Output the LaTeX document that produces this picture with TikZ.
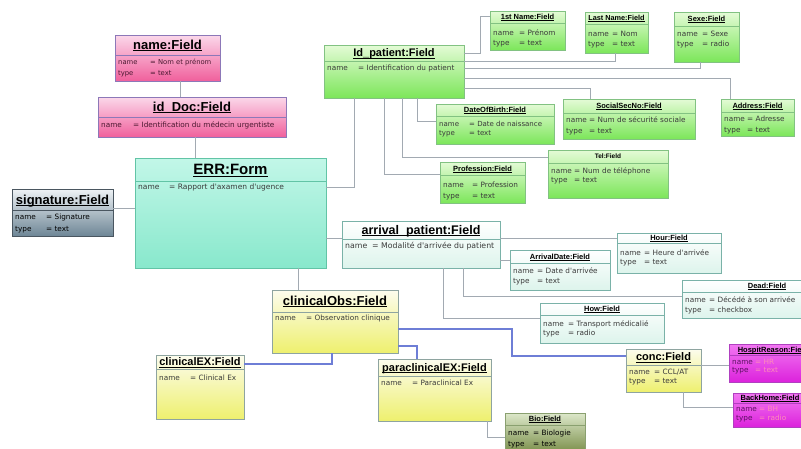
\documentclass[tikz,border=0pt]{standalone}
\usepackage{fontspec}
\setmainfont{Liberation Sans}
\newfontfamily\dv{DejaVu Sans}
\usetikzlibrary{calc}

\definecolor{pkT}{HTML}{FBD8EA}
\definecolor{pkB}{HTML}{F0609C}
\definecolor{pkD}{HTML}{8C78B8}
\definecolor{pkX}{HTML}{4A1830}
\definecolor{grT}{HTML}{E4FBD6}
\definecolor{grB}{HTML}{7CE65A}
\definecolor{grD}{HTML}{82C282}
\definecolor{aqT}{HTML}{C2F7E8}
\definecolor{aqB}{HTML}{88E8CC}
\definecolor{aqD}{HTML}{62C4A6}
\definecolor{sgT}{HTML}{EEF2F5}
\definecolor{sgB}{HTML}{6E8696}
\definecolor{sgD}{HTML}{4A5660}
\definecolor{mnT}{HTML}{FFFFFF}
\definecolor{mnB}{HTML}{DDF4EC}
\definecolor{mnD}{HTML}{7AB2A8}
\definecolor{ylT}{HTML}{FCFCEE}
\definecolor{ylB}{HTML}{EEF06E}
\definecolor{ylD}{HTML}{8EA4A0}
\definecolor{olT}{HTML}{DDE8CA}
\definecolor{olB}{HTML}{6C8238}
\definecolor{olD}{HTML}{8AA070}
\definecolor{mgT}{HTML}{F278F2}
\definecolor{mgB}{HTML}{DC22DC}
\definecolor{mgD}{HTML}{B040C0}
\definecolor{mgL}{HTML}{5A1060}
\definecolor{mgV}{HTML}{FF8CB8}
\definecolor{cnG}{HTML}{A2AAB2}
\definecolor{cnB}{HTML}{6E7ED6}
\definecolor{txA}{HTML}{3A3A3A}

\tikzset{
  boxbase/.style={rectangle, draw, line width=0.8pt, anchor=north west, inner sep=0pt, outer sep=0pt},
  pink box/.style={boxbase, draw=pkD, top color=pkT, bottom color=pkB},
  pink sep/.style={draw=pkD, line width=0.8pt},
  pink attr/.style={text=pkX},
  green box/.style={boxbase, draw=grD, top color=grT, bottom color=grB},
  green sep/.style={draw=grD, line width=0.8pt},
  green attr/.style={text=txA},
  aqua box/.style={boxbase, draw=aqD, top color=aqT, bottom color=aqB},
  aqua sep/.style={draw=aqD, line width=0.8pt},
  aqua attr/.style={text=txA},
  sig box/.style={boxbase, draw=sgD, top color=sgT, bottom color=sgB},
  sig sep/.style={draw=sgD, line width=0.8pt},
  sig attr/.style={text=black},
  mint box/.style={boxbase, draw=mnD, top color=mnT, bottom color=mnB},
  mint sep/.style={draw=mnD, line width=0.8pt},
  mint attr/.style={text=txA},
  yel box/.style={boxbase, draw=ylD, top color=ylT, bottom color=ylB},
  yel sep/.style={draw=ylD, line width=0.8pt},
  yel attr/.style={text=txA},
  olive box/.style={boxbase, draw=olD, top color=olT, bottom color=olB},
  olive sep/.style={draw=olD, line width=0.8pt},
  olive attr/.style={text=black},
  mag box/.style={boxbase, draw=mgD, top color=mgT, bottom color=mgB},
  mag sep/.style={draw=mgD, line width=0.8pt},
  mag attr/.style={text=mgL},
  ttl/.style={inner sep=0pt, font=\bfseries, text=black},
  attr/.style={inner sep=0pt, font=\dv},
  conn/.style={draw=cnG, line width=0.9pt},
  bconn/.style={draw=cnB, line width=2.6pt},
}

\newcommand\utl[1]{\setbox0\hbox{#1}\rlap{\rule[-0.13em]{\wd0}{0.08em}}\box0}
\newcount\urowno
\newcommand\ubox[9]{%
  \node[#1 box, minimum width=#5pt, minimum height=#6pt] (#2) at (#3,#4) {};
  \draw[#1 sep] ([yshift=-#7pt]#2.north west) -- ([yshift=-#7pt]#2.north east);
  \node[ttl, anchor=base] (#2-t) at ([yshift={-(#7/2+0.36*#8)}]#2.north) {\fontsize{#8}{#8}\selectfont #9};
  \coordinate (cur) at ([yshift=-#7pt]#2.north west);
  \tikzset{cur attr/.style={#1 attr}}%
  \urowno=0 \def\avcol{.}%
}
\newcommand\attrs[4]{\def\afs{#1}\def\aw{#2}\def\afirst{#3}\def\arsep{#4}}
\newcommand\arow[2]{%
  \advance\urowno by 1
  \pgfmathsetmacro\ayy{-(\afirst+2+(\urowno-1)*\arsep)}%
  \node[attr, cur attr, anchor=base west] at ([xshift=3pt, yshift=\ayy pt]cur) {\fontsize{\afs}{\afs}\selectfont\makebox[\aw pt][l]{#1}{\color{\avcol}= #2}};
}

\begin{document}
\begin{tikzpicture}[x=1pt,y=-1pt]
\fill[white] (0,0) rectangle (801,448);
\useasboundingbox (0,0) rectangle (801,448);

% ---------- boxes ----------
\ubox{pink}{nameF}{115}{35}{105}{46}{20}{13}{\utl{name:Field}}
\attrs{6.8}{32}{7}{11}
\arow{name}{Nom et prénom}
\arow{type}{text}

\ubox{pink}{idDoc}{98}{97}{188}{40}{20}{13}{\utl{id\_Doc:Field}}
\attrs{7.3}{32}{8}{11}
\arow{name}{Identification du médecin urgentiste}

\ubox{aqua}{ERR}{135}{158}{191}{110}{23}{15}{\utl{ERR:Form}}
\attrs{7.5}{31}{6}{11}
\arow{name}{Rapport d'axamen d'ugence}

\ubox{sig}{sig}{12}{189}{101}{47}{21}{13}{\utl{signature:Field}}
\attrs{7.3}{31}{7}{12}
\arow{name}{Signature}
\arow{type}{text}

\ubox{green}{idPat}{324}{45}{140}{53}{16}{11}{\utl{Id\_patient:Field}}
\attrs{7.3}{31}{7}{11}
\arow{name}{Identification du patient}

\ubox{green}{first}{490}{11}{75}{39}{12}{7.5}{\utl{1st Name:Field}}
\attrs{7.3}{26}{10}{10}
\arow{name}{Prénom}
\arow{type}{text}

\ubox{green}{last}{585}{12}{63}{41}{12}{7.3}{\utl{Last Name:Field}}
\attrs{7.3}{24}{10}{10}
\arow{name}{Nom}
\arow{type}{text}

\ubox{green}{sexe}{674}{12}{65}{50}{14}{7.5}{\utl{Sexe:Field}}
\attrs{7.3}{25}{8}{10}
\arow{name}{Sexe}
\arow{type}{radio}

\ubox{green}{dob}{436}{104}{118}{40}{12}{7.5}{\utl{DateOfBirth:Field}}
\attrs{7}{30}{8}{9.5}
\arow{name}{Date de naissance}
\arow{type}{text}

\ubox{green}{ssn}{563}{99}{132}{40}{14}{7.5}{\utl{SocialSecNo:Field}}
\attrs{7.3}{23}{7}{11}
\arow{name}{Num de sécurité sociale}
\arow{type}{text}

\ubox{green}{addr}{721}{99}{73}{37}{13}{7.5}{\utl{Address:Field}}
\attrs{7.3}{23}{7}{11}
\arow{name}{Adresse}
\arow{type}{text}

\ubox{green}{prof}{440}{162}{85}{41}{13}{7.5}{\utl{Profession:Field}}
\attrs{7.3}{29}{10}{11}
\arow{name}{Profession}
\arow{type}{text}

\ubox{green}{tel}{548}{150}{120}{48}{13}{6.5}{Tel:Field}
\attrs{7.3}{23}{8}{9.5}
\arow{name}{Num de téléphone}
\arow{type}{text}

\ubox{mint}{arr}{342}{221}{158}{47}{18}{12.5}{\utl{arrival\_patient:Field}}
\attrs{7.8}{27}{7}{11}
\arow{name}{Modalité d'arrivée du patient}

\ubox{mint}{hour}{617}{233}{104}{40}{10}{7.5}{\utl{Hour:Field}}
\attrs{7.3}{24}{10}{9}
\arow{name}{Heure d'arrivée}
\arow{type}{text}

\ubox{mint}{adate}{510}{250}{100}{40}{13}{7.5}{\utl{ArrivalDate:Field}}
\attrs{7.3}{24}{8}{10}
\arow{name}{Date d'arrivée}
\arow{type}{text}

\ubox{mint}{dead}{682}{280}{170}{38}{12}{7.5}{\utl{Dead:Field}}
\attrs{7.3}{24}{8}{10}
\arow{name}{Décédé à son arrivée}
\arow{type}{checkbox}

\ubox{mint}{how}{540}{303}{124}{40}{12}{7.5}{\utl{How:Field}}
\attrs{7.3}{25}{9}{9}
\arow{name}{Transport médicalié}
\arow{type}{radio}

\ubox{yel}{cobs}{272}{290}{126}{63}{22}{13}{\utl{clinicalObs:Field}}
\attrs{7.3}{31}{6}{11}
\arow{name}{Observation clinique}

\ubox{yel}{cex}{156}{355}{88}{64}{14}{11}{\utl{clinicalEX:Field}}
\attrs{7.3}{31}{9}{11}
\arow{name}{Clinical Ex}

\ubox{yel}{pex}{378}{359}{113}{62}{17}{11}{\utl{paraclinicalEX:Field}}
\attrs{7.3}{31}{7}{11}
\arow{name}{Paraclinical Ex}

\ubox{yel}{conc}{626}{349}{75}{43}{16}{11}{\utl{conc:Field}}
\attrs{7.3}{25}{7}{9}
\arow{name}{CCL/AT}
\arow{type}{text}

\ubox{olive}{bio}{505}{413}{80}{45}{12}{7.5}{\utl{Bio:Field}}
\attrs{7.3}{25}{8}{11}
\arow{name}{Biologie}
\arow{type}{text}

\ubox{mag}{hosp}{729}{344}{88}{38}{11}{7.5}{\utl{HospitReason:Field}}
\def\avcol{mgV}
\attrs{7.3}{23}{7}{8.5}
\arow{name}{HR}
\arow{type}{text}

\ubox{mag}{back}{733}{393}{74}{34}{10}{7.5}{\utl{BackHome:Field}}
\def\avcol{mgV}
\attrs{7.3}{23}{6}{9}
\arow{name}{BH}
\arow{type}{radio}

% ---------- connectors ----------
\coordinate (a1) at ([xshift=65pt]nameF.south west);
\draw[conn] (a1) -- (a1 |- idDoc.north);
\coordinate (a2) at ([xshift=97pt]idDoc.south west);
\draw[conn] (a2) -- (a2 |- ERR.north);
\coordinate (a3) at ([yshift=-19pt]sig.north east);
\draw[conn] (a3) -- (a3 -| ERR.west);
\coordinate (a4) at ([yshift=-29pt]ERR.north east);
\coordinate (a4b) at ([xshift=30pt]idPat.south west);
\draw[conn] (a4) -| (a4b);
\draw[conn] ([yshift=-80pt]ERR.north east) -- ([yshift=-17pt]arr.north west);
\coordinate (a5) at ([xshift=26pt]cobs.north west);
\draw[conn] (a5) -- (a5 |- ERR.south);

\draw[conn] ([yshift=-8pt]idPat.north east) -- ++(16,0) |- ([yshift=-5pt]first.north west);
\draw[conn] ([yshift=-16pt]idPat.north east) -| ([xshift=30pt]last.south west);
\draw[conn] ([yshift=-23pt]idPat.north east) -| ([xshift=26pt]sexe.south west);
\draw[conn] ([yshift=-33pt]idPat.north east) -| ([xshift=9pt]addr.north west);
\draw[conn] ([yshift=-43pt]idPat.north east) -| ([xshift=27pt]ssn.north west);
\draw[conn] ([xshift=93pt]idPat.south west) |- ([yshift=-17pt]dob.north west);
\draw[conn] ([xshift=78pt]idPat.south west) |- ([yshift=-7pt]tel.north west);
\draw[conn] ([xshift=60pt]idPat.south west) |- ([yshift=-12pt]prof.north west);

\draw[conn] ([yshift=-17pt]arr.north east) -- ([yshift=-5pt]hour.north west);
\draw[conn] ([yshift=-39pt]arr.north east) -- ([yshift=-10pt]adate.north west);
\draw[conn] ([xshift=121pt]arr.south west) |- ([yshift=-16pt]dead.north west);
\draw[conn] ([xshift=101pt]arr.south west) |- ([yshift=-15pt]how.north west);

\draw[bconn] ([xshift=60pt]cobs.south west) |- ([yshift=-9pt]cex.north east);
\draw[bconn] ([yshift=-56pt]cobs.north east) -| ([xshift=39pt]pex.north west);
\draw[bconn] ([yshift=-39pt]cobs.north east) -- ++(114,0) |- ([yshift=-7pt]conc.north west);

\draw[conn] ([yshift=-16pt]conc.north east) -- ([yshift=-21pt]hosp.north west);
\draw[conn] ([xshift=57pt]conc.south west) |- ([yshift=-14pt]back.north west);
\draw[conn] ([xshift=109pt]pex.south west) |- ([yshift=-24pt]bio.north west);
\end{tikzpicture}
\end{document}
